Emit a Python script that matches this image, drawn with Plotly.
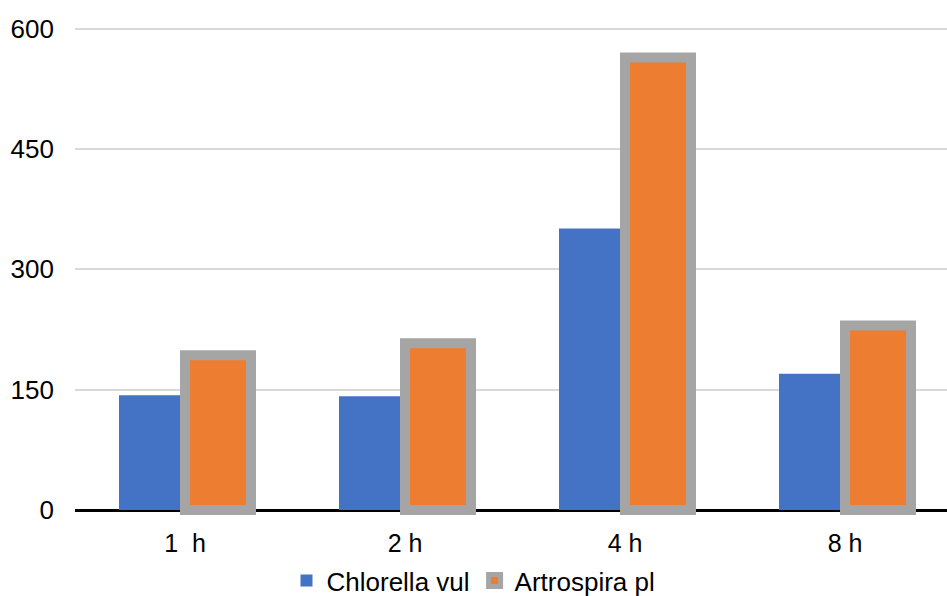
import plotly.graph_objects as go

categories = ["1  h", "2 h", "4 h", "8 h"]
chlorella = [143, 142, 351, 170]
artrospira = [193, 208, 564, 230]
series_names = ["Chlorella vul", "Artrospira pl"]
y_ticks = [0, 150, 300, 450, 600]

fig = go.Figure()
fig.add_trace(go.Bar(x=categories, y=chlorella, name=series_names[0],
                     marker=dict(color="#4472C4", line=dict(width=0))))
fig.add_trace(go.Bar(x=categories, y=artrospira, name=series_names[1],
                     marker=dict(color="#ED7D31", line=dict(color="#A5A5A5", width=10))))

fig.update_layout(
    width=947, height=596,
    margin=dict(l=75, r=0, t=27.4, b=73.5),
    plot_bgcolor="white", paper_bgcolor="white",
    barmode="group", bargap=0.4, bargroupgap=0,
    font=dict(family="Liberation Sans, Arial, sans-serif", size=26, color="#000000"),
    showlegend=True,
    legend=dict(orientation="h", xref="container", yref="container",
                x=0.5, xanchor="center", y=0.026, yanchor="middle",
                font=dict(size=26), traceorder="normal"),
    xaxis=dict(range=[-0.5, -0.5 + (947 - 75) / 220.0], showgrid=False,
               showline=False, ticks="", ticklabelstandoff=9, fixedrange=True,
               tickfont=dict(size=25)),
    yaxis=dict(range=[-8, 602], tickvals=y_ticks, showgrid=True, gridcolor="#D9D9D9",
               gridwidth=1.5, zeroline=True, zerolinecolor="#000000", zerolinewidth=2.5,
               showline=False, ticks="", ticklabelstandoff=20),
)

fig.write_html("out.html", config={"displayModeBar": False},
               post_script="document.body.style.margin='0';document.body.style.overflow='hidden';")
